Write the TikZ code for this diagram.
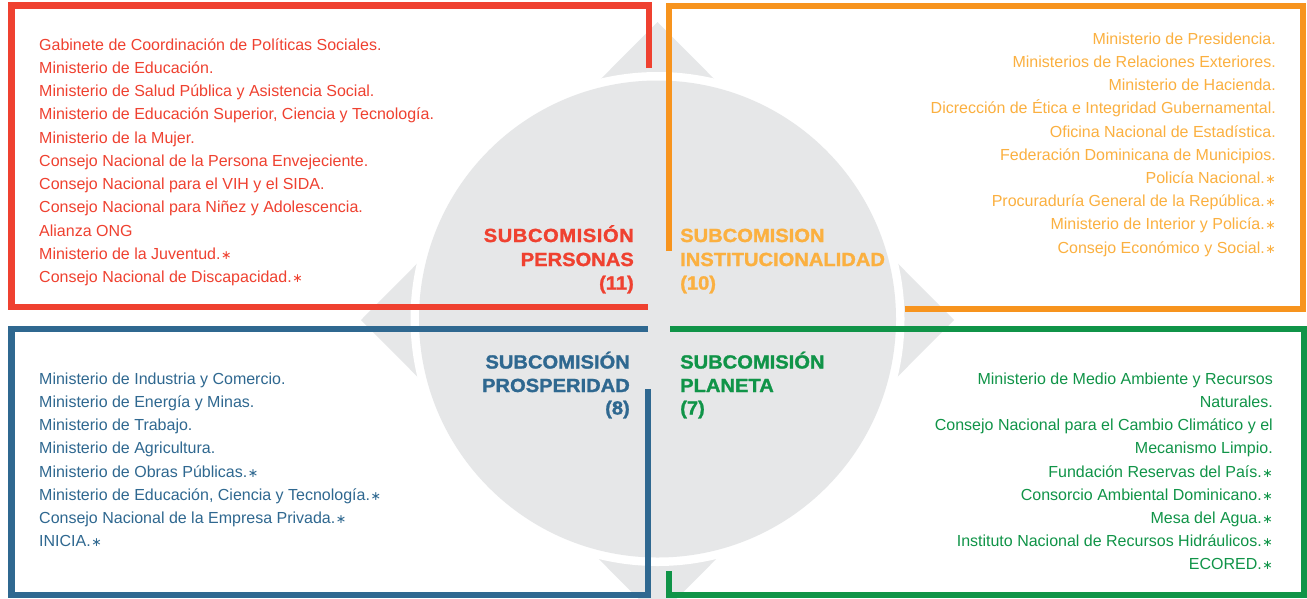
\documentclass[tikz,border=0pt]{standalone}
\usepackage{fontspec}
\setmainfont{Liberation Sans}
\newfontfamily\headfont[FakeStretch=1.06,BoldFeatures={FakeBold=1.4}]{Liberation Sans}
\newfontfamily\symfont{DejaVu Sans}
\definecolor{cred}{RGB}{239,65,48}
\definecolor{corl}{RGB}{247,148,30}
\definecolor{cort}{RGB}{251,176,64}
\definecolor{cblu}{RGB}{47,104,144}
\definecolor{cgrn}{RGB}{16,148,72}
\definecolor{cgry}{RGB}{230,231,232}
\newcommand\astk{\hspace{0.5pt}{\symfont\fontsize{12.5}{12.5}\selectfont ∗}}
\begin{document}
\begin{tikzpicture}[x=1pt,y=-1pt,
  boxline/.style={line width=6.5pt,line join=miter,line cap=butt},
  item/.style={inner sep=0pt,font=\fontsize{16}{19}\selectfont},
  head/.style={inner sep=0pt,font=\headfont\bfseries\fontsize{19}{22}\selectfont}]
\useasboundingbox (0,0) rectangle (1307,598);
\clip (0,0) rectangle (1307,598);
\fill[white] (0,0) rectangle (1307,598);
% central diamond and circle
\fill[cgry] (657.5,22) -- (954,320) -- (657.5,618) -- (361,320) -- cycle;
\fill[white] (657.5,319) circle [radius=247pt];
\fill[cgry] (657.5,319) circle [radius=238.5pt];
% box outlines
\draw[boxline,cred] (649,68) -- (649,5.5) -- (11.5,5.5) -- (11.5,307) -- (648,307);
\draw[boxline,corl] (669,251) -- (669,6) -- (1303,6) -- (1303,309) -- (905,309);
\draw[boxline,cblu] (648,329) -- (11.5,329) -- (11.5,595) -- (648,595) -- (648,389);
\draw[boxline,cgrn] (669,571) -- (669,595) -- (1304,595) -- (1304,329) -- (670,329);
% headings
\node[head,text=cred,anchor=base east] (hr1) at (634,242) {\addfontfeature{LetterSpace=3}SUBCOMISIÓN};
\node[head,text=cred,anchor=base east] (hr2) at (634,266) {PERSONAS};
\node[head,text=cred,anchor=base east] (hr3) at (634,289.5) {(11)};
\node[head,text=cort,anchor=base west] (ho1) at (680,242) {SUBCOMISION};
\node[head,text=cort,anchor=base west] (ho2) at (680,266) {INSTITUCIONALIDAD};
\node[head,text=cort,anchor=base west] (ho3) at (680,289.5) {(10)};
\node[head,text=cblu,anchor=base east] (hb1) at (630,368.5) {SUBCOMISIÓN};
\node[head,text=cblu,anchor=base east] (hb2) at (630,392) {PROSPERIDAD};
\node[head,text=cblu,anchor=base east] (hb3) at (630,414.5) {(8)};
\node[head,text=cgrn,anchor=base west] (hg1) at (680,368.5) {SUBCOMISIÓN};
\node[head,text=cgrn,anchor=base west] (hg2) at (680,392) {PLANETA};
\node[head,text=cgrn,anchor=base west] (hg3) at (680,414.5) {(7)};
% red list
\foreach \t [count=\i] in {
  {Gabinete de Coordinación de Políticas Sociales.},
  {Ministerio de Educación.},
  {Ministerio de Salud Pública y Asistencia Social.},
  {Ministerio de Educación Superior, Ciencia y Tecnología.},
  {Ministerio de la Mujer.},
  {Consejo Nacional de la Persona Envejeciente.},
  {Consejo Nacional para el VIH y el SIDA.},
  {Consejo Nacional para Niñez y Adolescencia.},
  {Alianza ONG},
  {Ministerio de la Juventud.\astk},
  {Consejo Nacional de Discapacidad.\astk}}
  \node[item,text=cred,anchor=base west] (r\i) at (39,{50+(\i-1)*23.25}) {\t};
% orange list
\foreach \t [count=\i] in {
  {Ministerio de Presidencia.},
  {Ministerios de Relaciones Exteriores.},
  {Ministerio de Hacienda.},
  {Dicrección de Ética e Integridad Gubernamental.},
  {Oficina Nacional de Estadística.},
  {Federación Dominicana de Municipios.},
  {Policía Nacional.\astk},
  {Procuraduría General de la República.\astk},
  {Ministerio de Interior y Policía.\astk},
  {Consejo Económico y Social.\astk}}
  \node[item,text=cort,anchor=base east] (o\i) at (1276,{44.3+(\i-1)*23.2}) {\t};
% blue list
\foreach \t [count=\i] in {
  {Ministerio de Industria y Comercio.},
  {Ministerio de Energía y Minas.},
  {Ministerio de Trabajo.},
  {Ministerio de Agricultura.},
  {Ministerio de Obras Públicas.\astk},
  {Ministerio de Educación, Ciencia y Tecnología.\astk},
  {Consejo Nacional de la Empresa Privada.\astk},
  {INICIA.\astk}}
  \node[item,text=cblu,anchor=base west] (b\i) at (39,{384.3+(\i-1)*23.2}) {\t};
% green list
\foreach \t [count=\i] in {
  {Ministerio de Medio Ambiente y Recursos},
  {Naturales.},
  {Consejo Nacional para el Cambio Climático y el},
  {Mecanismo Limpio.},
  {Fundación Reservas del País.\astk},
  {Consorcio Ambiental Dominicano.\astk},
  {Mesa del Agua.\astk},
  {Instituto Nacional de Recursos Hidráulicos.\astk},
  {ECORED.\astk}}
  \node[item,text=cgrn,anchor=base east] (g\i) at (1273,{384.3+(\i-1)*23.2}) {\t};
\end{tikzpicture}
\end{document}
